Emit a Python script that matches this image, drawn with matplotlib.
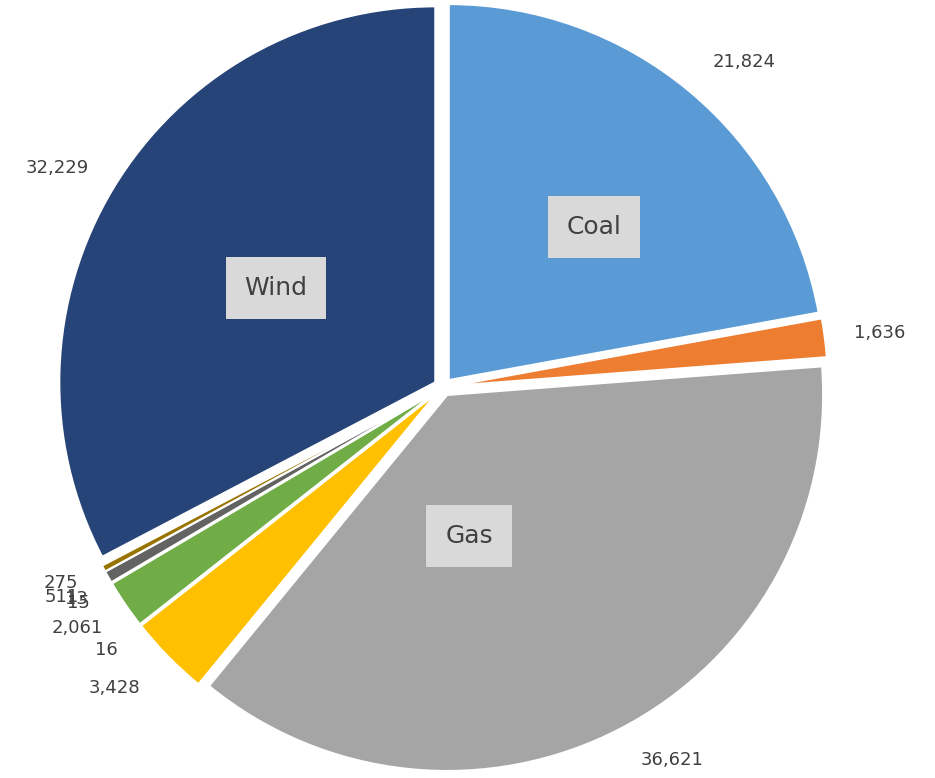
#!/usr/bin/env python3
"""
Generation mix pie chart, exploded slices with value labels.
"""

import matplotlib
matplotlib.use("Agg")
import matplotlib.pyplot as plt

# slices, clockwise from 12 o'clock
sources = ["Coal", "Oil", "Gas", "Hydro", "Other1", "Solar", "Other2", "Other3", "Bio", "Other4", "Wind"]
values = [21824, 1636, 36621, 3428, 16, 2061, 13, 15, 511, 275, 32229]
colors = ["#5B9BD5", "#ED7D31", "#A5A5A5", "#FFC000", "#4472C4", "#70AD47",
          "#255E91", "#9E480E", "#636363", "#997300", "#264478"]
value_labels = ["21,824", "1,636", "36,621", "3,428", "16", "2,061", "13", "15", "511", "275", "32,229"]

# label centres in image pixels (x, y from top)
label_pos = [(744, 62), (880, 333), (672, 760), (115, 688), (106, 650), (77, 628),
             (76, 599), (78, 603), (62, 597), (61, 583), (57, 168)]

# category names shown in boxes
box_names = ["Coal", "Gas", "Wind"]
box_pos = [(594, 227), (469, 536), (276, 288)]

W, H = 935, 778


def main() -> None:
    fig = plt.figure(figsize=(W / 100, H / 100), dpi=100)
    ax = fig.add_axes([0, 0, 1, 1])

    radius = 376
    ax.pie(
        values,
        colors=colors,
        startangle=90,
        counterclock=False,
        center=(443, H - 387),
        radius=radius,
        explode=[9] * len(values),
        wedgeprops=dict(edgecolor="white", linewidth=1.5),
        frame=True,
    )
    ax.set_xlim(0, W)
    ax.set_ylim(0, H)
    ax.set_aspect("equal")
    ax.axis("off")

    for txt, (x, y) in zip(value_labels, label_pos):
        ax.text(x, H - y, txt, ha="center", va="center", fontsize=13, color="#404040")

    for name, (x, y) in zip(box_names, box_pos):
        ax.text(x, H - y, name, ha="center", va="center", fontsize=18, color="#404040",
                bbox=dict(boxstyle="square,pad=0.75", facecolor="#D9D9D9", edgecolor="none"))

    fig.savefig("out.png", dpi=100)


if __name__ == "__main__":
    main()
